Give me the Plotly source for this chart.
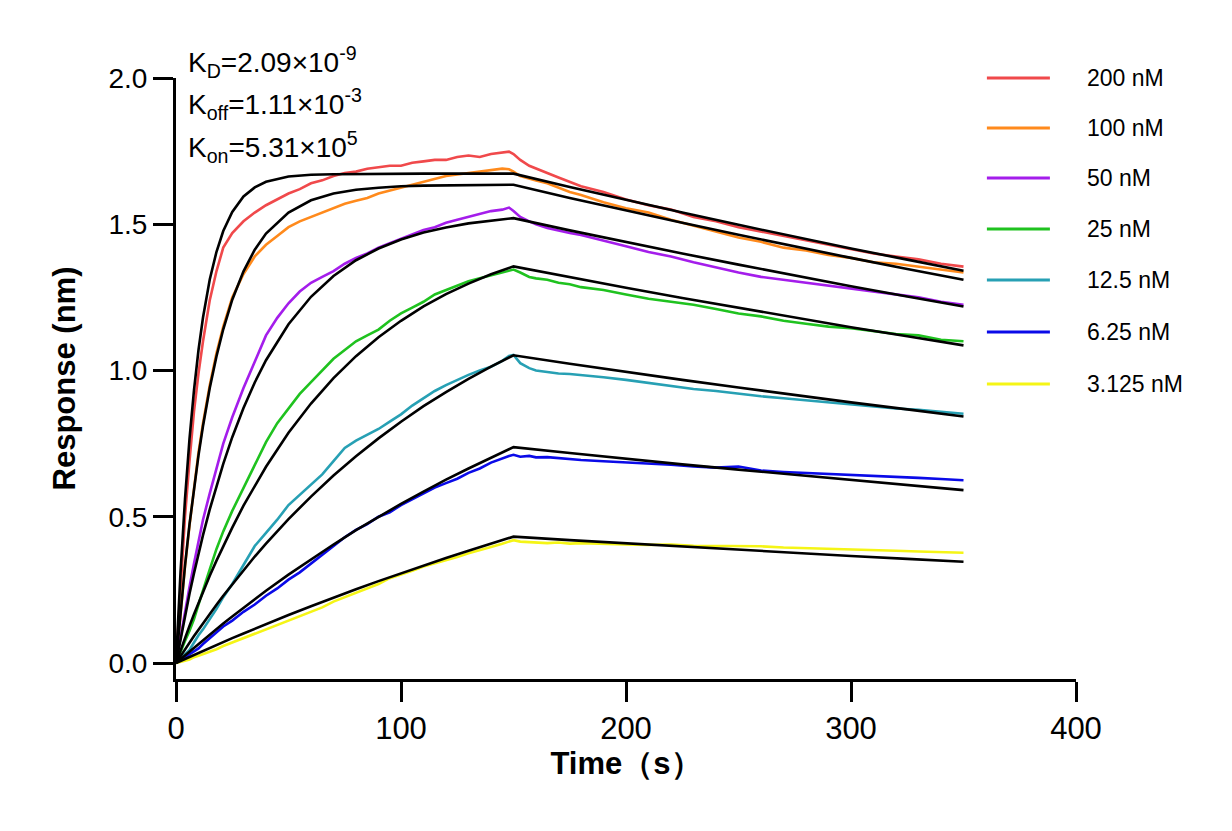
import plotly.graph_objects as go

# ---------------- data ----------------
DATA_T = [0, 2, 4, 6, 8, 10, 12, 15, 18, 21,
          25, 30, 35, 40, 45, 50, 55, 60, 65, 70, 75, 80, 85, 90, 95, 100, 105, 110, 115, 120, 125, 130, 135, 140, 145,
          148, 150, 153, 157, 160,
          165, 170, 175, 180,
          190, 200, 210, 220, 230, 240, 250, 260, 270, 280, 290, 300, 310, 320, 330, 340, 350]

resp_200 = [0.00, 0.27, 0.50, 0.69, 0.86, 0.99, 1.10, 1.24, 1.34, 1.42,
            1.47, 1.51, 1.54, 1.565, 1.585, 1.605, 1.62, 1.64, 1.65, 1.665, 1.675, 1.68, 1.69, 1.695, 1.70, 1.70, 1.71, 1.715, 1.72, 1.72, 1.73, 1.735, 1.73, 1.74, 1.745,
            1.748, 1.74, 1.72, 1.70, 1.69,
            1.675, 1.66, 1.645, 1.63,
            1.61, 1.585, 1.565, 1.55, 1.525, 1.51, 1.49, 1.475, 1.46, 1.445, 1.43, 1.415, 1.40, 1.39, 1.38, 1.365, 1.355]
resp_100 = [0.00, 0.17, 0.33, 0.47, 0.60, 0.72, 0.82, 0.95, 1.06, 1.15,
            1.25, 1.33, 1.39, 1.43, 1.46, 1.49, 1.51, 1.525, 1.54, 1.555, 1.57, 1.58, 1.59, 1.605, 1.615, 1.625, 1.635, 1.645, 1.655, 1.665, 1.67, 1.675, 1.68, 1.685, 1.69,
            1.688, 1.68, 1.665, 1.655, 1.65,
            1.64, 1.625, 1.61, 1.60,
            1.575, 1.555, 1.54, 1.515, 1.495, 1.475, 1.455, 1.44, 1.42, 1.41, 1.395, 1.385, 1.37, 1.365, 1.355, 1.345, 1.335]
resp_50 = [0.00, 0.09, 0.18, 0.26, 0.34, 0.42, 0.49, 0.58, 0.67, 0.75,
           0.84, 0.94, 1.03, 1.12, 1.18, 1.23, 1.27, 1.30, 1.32, 1.34, 1.365, 1.385, 1.40, 1.42, 1.435, 1.45, 1.465, 1.48, 1.49, 1.505, 1.515, 1.525, 1.535, 1.545, 1.55,
           1.557, 1.545, 1.525, 1.51, 1.50,
           1.487, 1.478, 1.47, 1.463,
           1.445, 1.425, 1.405, 1.39, 1.37, 1.352, 1.335, 1.32, 1.31, 1.30, 1.29, 1.28, 1.27, 1.26, 1.25, 1.235, 1.225]
resp_25 = [0.00, 0.04, 0.075, 0.11, 0.15, 0.20, 0.25, 0.32, 0.39, 0.45,
           0.52, 0.60, 0.68, 0.755, 0.82, 0.87, 0.92, 0.96, 1.00, 1.04, 1.07, 1.10, 1.12, 1.14, 1.17, 1.195, 1.215, 1.235, 1.26, 1.275, 1.29, 1.305, 1.315, 1.325, 1.335,
           1.342, 1.345, 1.335, 1.32, 1.315,
           1.31, 1.30, 1.295, 1.285,
           1.275, 1.26, 1.245, 1.235, 1.225, 1.21, 1.195, 1.185, 1.17, 1.16, 1.15, 1.145, 1.135, 1.125, 1.12, 1.105, 1.10]
resp_12 = [0.00, 0.015, 0.03, 0.045, 0.07, 0.095, 0.115, 0.15, 0.185, 0.225,
           0.27, 0.335, 0.40, 0.445, 0.49, 0.54, 0.575, 0.61, 0.645, 0.69, 0.735, 0.76, 0.78, 0.80, 0.825, 0.85, 0.88, 0.905, 0.93, 0.95, 0.968, 0.985, 1.00, 1.013, 1.033,
           1.05, 1.053, 1.025, 1.008, 1.00,
           0.995, 0.99, 0.988, 0.985,
           0.977, 0.968, 0.957, 0.946, 0.937, 0.93, 0.92, 0.912, 0.905, 0.898, 0.89, 0.884, 0.877, 0.87, 0.866, 0.86, 0.852]
resp_6 = [0.00, 0.01, 0.02, 0.03, 0.038, 0.05, 0.065, 0.085, 0.105, 0.125,
          0.145, 0.175, 0.20, 0.23, 0.255, 0.285, 0.31, 0.34, 0.37, 0.40, 0.43, 0.455, 0.475, 0.50, 0.515, 0.54, 0.56, 0.58, 0.60, 0.615, 0.63, 0.65, 0.665, 0.685, 0.70,
          0.708, 0.712, 0.705, 0.708, 0.703,
          0.704, 0.70, 0.697, 0.694,
          0.69, 0.686, 0.684, 0.678, 0.672, 0.668, 0.672, 0.658, 0.653, 0.65, 0.646, 0.643, 0.64, 0.636, 0.633, 0.629, 0.625]
resp_3 = [0.00, 0.003, 0.008, 0.012, 0.02, 0.025, 0.03, 0.038, 0.047, 0.058,
          0.07, 0.085, 0.10, 0.115, 0.13, 0.145, 0.16, 0.175, 0.19, 0.21, 0.225, 0.24, 0.255, 0.27, 0.29, 0.302, 0.315, 0.33, 0.34, 0.352, 0.362, 0.375, 0.385, 0.397, 0.408,
          0.414, 0.42, 0.415, 0.413, 0.413,
          0.41, 0.412, 0.408, 0.41,
          0.407, 0.405, 0.404, 0.405, 0.401, 0.40, 0.398, 0.399, 0.395, 0.393, 0.392, 0.389, 0.387, 0.384, 0.381, 0.379, 0.377]

FIT_T = [0, 2, 4, 6, 8, 10, 12, 15, 18, 21, 25, 30, 35, 40, 50, 60, 70, 80, 90, 100, 110, 120, 130, 140, 150,
         175, 200, 225, 250, 275, 300, 325, 350]

fit_200 = [0, 0.309, 0.560, 0.766, 0.933, 1.070, 1.181, 1.311, 1.406, 1.477, 1.542, 1.595, 1.626, 1.645, 1.663, 1.669, 1.671, 1.672, 1.673, 1.673, 1.673, 1.673, 1.673, 1.673, 1.673,
           1.627, 1.583, 1.540, 1.498, 1.457, 1.417, 1.379, 1.341]
fit_100 = [0, 0.176, 0.333, 0.474, 0.598, 0.710, 0.810, 0.940, 1.049, 1.141, 1.242, 1.339, 1.413, 1.468, 1.540, 1.582, 1.605, 1.618, 1.625, 1.630, 1.632, 1.633, 1.634, 1.634, 1.635,
           1.590, 1.547, 1.505, 1.464, 1.424, 1.385, 1.347, 1.310]
fit_50 = [0, 0.083, 0.162, 0.237, 0.307, 0.374, 0.437, 0.525, 0.607, 0.681, 0.772, 0.872, 0.959, 1.035, 1.158, 1.252, 1.323, 1.377, 1.417, 1.448, 1.472, 1.489, 1.503, 1.513, 1.521,
          1.479, 1.439, 1.400, 1.362, 1.324, 1.288, 1.253, 1.219]
fit_25 = [0, 0.044, 0.086, 0.127, 0.167, 0.206, 0.243, 0.298, 0.350, 0.400, 0.463, 0.538, 0.607, 0.671, 0.787, 0.887, 0.974, 1.049, 1.114, 1.170, 1.219, 1.261, 1.297, 1.329, 1.356,
          1.319, 1.283, 1.248, 1.214, 1.181, 1.148, 1.117, 1.086]
fit_12 = [0, 0.024, 0.047, 0.070, 0.092, 0.114, 0.136, 0.168, 0.199, 0.230, 0.269, 0.317, 0.364, 0.408, 0.492, 0.569, 0.641, 0.707, 0.768, 0.825, 0.878, 0.926, 0.971, 1.013, 1.052,
          1.023, 0.995, 0.968, 0.942, 0.916, 0.891, 0.867, 0.843]
fit_6 = [0, 0.013, 0.027, 0.040, 0.053, 0.066, 0.079, 0.098, 0.117, 0.135, 0.159, 0.189, 0.218, 0.247, 0.302, 0.355, 0.405, 0.454, 0.500, 0.544, 0.586, 0.627, 0.665, 0.702, 0.738,
         0.718, 0.698, 0.679, 0.661, 0.643, 0.625, 0.608, 0.591]
fit_3 = [0, 0.007, 0.014, 0.021, 0.028, 0.035, 0.042, 0.052, 0.062, 0.072, 0.085, 0.101, 0.117, 0.133, 0.164, 0.194, 0.224, 0.252, 0.280, 0.307, 0.334, 0.359, 0.384, 0.408, 0.432,
         0.420, 0.409, 0.397, 0.387, 0.376, 0.366, 0.356, 0.346]

SERIES_NAMES = ["200 nM", "100 nM", "50 nM", "25 nM", "12.5 nM", "6.25 nM", "3.125 nM"]
SERIES_COLORS = ["#F0494B", "#FF8A1C", "#A41DEB", "#1FC21F", "#27A0B4", "#0A0AE8", "#F5F516"]
RESPONSES = [resp_200, resp_100, resp_50, resp_25, resp_12, resp_6, resp_3]
FITS = [fit_200, fit_100, fit_50, fit_25, fit_12, fit_6, fit_3]

X_TICKS = [0, 100, 200, 300, 400]
Y_TICKS = [0.0, 0.5, 1.0, 1.5, 2.0]

KINETICS = ["K<sub>D</sub>=2.09×10<sup>-9</sup>",
            "K<sub>off</sub>=1.11×10<sup>-3</sup>",
            "K<sub>on</sub>=5.31×10<sup>5</sup>"]

FONT = "Liberation Sans, Arial, sans-serif"

fig = go.Figure()
for name, color, resp in zip(SERIES_NAMES, SERIES_COLORS, RESPONSES):
    fig.add_trace(go.Scatter(x=DATA_T, y=resp, mode="lines", name=name,
                             showlegend=False, line=dict(color=color, width=2.6)))
for fit in FITS:
    fig.add_trace(go.Scatter(x=FIT_T, y=fit, mode="lines", showlegend=False,
                             line=dict(color="black", width=2.6), hoverinfo="skip"))

axis_common = dict(showline=True, linecolor="black", linewidth=3, ticks="outside",
                   ticklen=20, tickwidth=3, tickcolor="black", showgrid=False, zeroline=False)

fig.update_xaxes(range=[0, 400], tickvals=X_TICKS, ticktext=[str(v) for v in X_TICKS],
                 tickfont=dict(family=FONT, size=31, color="black"),
                 title=dict(text="<b>Time（s）</b>", font=dict(family=FONT, size=31, color="black"), standoff=8),
                 **axis_common)
fig.update_yaxes(range=[-0.0547, 2.0], tickvals=Y_TICKS, ticktext=[f"{v:.1f}" for v in Y_TICKS],
                 tickfont=dict(family=FONT, size=28, color="black"),
                 title=dict(text="<b>Response (nm)</b>", font=dict(family=FONT, size=31, color="black"), standoff=24),
                 **axis_common)

# page body adds an 8 px offset; margins compensate so the plot lands where the reference has it
fig.update_layout(
    width=1232, height=831,
    margin=dict(l=168, r=164, t=70, b=160),
    plot_bgcolor="white", paper_bgcolor="white",
    showlegend=False,
    font=dict(family=FONT, color="black"),
)

# legend drawn as line samples + labels at the right of the plot
LEG_ROWS = [1.0, 0.9168, 0.8336, 0.7488, 0.6639, 0.5774, 0.4908]
for name, color, yrow in zip(SERIES_NAMES, SERIES_COLORS, LEG_ROWS):
    fig.add_shape(type="line", xref="paper", yref="paper", x0=0.901, x1=0.971, y0=yrow, y1=yrow,
                  line=dict(color=color, width=3))
    fig.add_annotation(text=name, xref="paper", yref="paper", x=1.010, y=yrow,
                       xanchor="left", yanchor="middle", showarrow=False,
                       font=dict(family=FONT, size=23, color="black"))

for j, txt in enumerate(KINETICS):
    fig.add_annotation(text=txt, xref="paper", yref="paper", x=0.011, y=1.027 - j * 0.0706,
                       xanchor="left", yanchor="middle", showarrow=False,
                       font=dict(family=FONT, size=28, color="black"))

fig.write_html("out.html")
